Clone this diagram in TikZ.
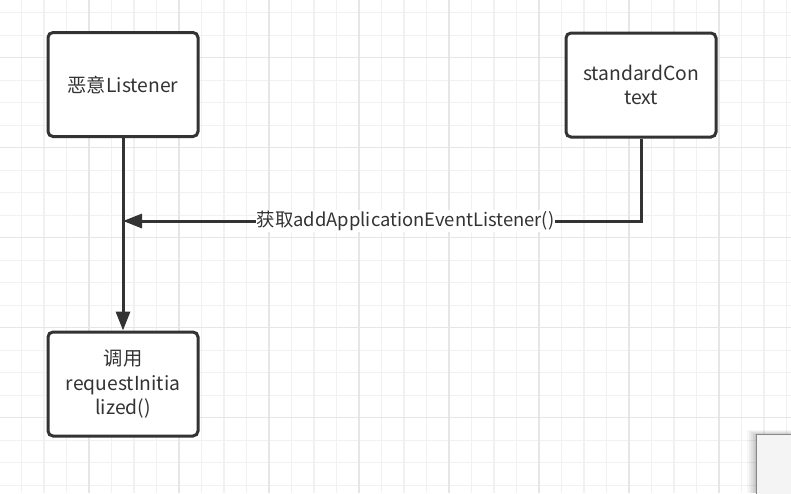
\documentclass[tikz,border=0pt]{standalone}
\usepackage{fontspec}
\setmainfont{Noto Sans CJK SC}
\usetikzlibrary{arrows.meta}
\definecolor{ink}{HTML}{333333}
\definecolor{gridminor}{HTML}{F1F1F1}
\definecolor{gridmajor}{HTML}{E6E6E6}
\tikzset{
  box/.style={draw=ink, line width=3pt, rounded corners=5pt, fill=white,
    minimum width=150pt, minimum height=104pt, inner sep=0pt, align=center,
    font=\fontsize{19.3}{24.5}\selectfont, text=ink},
  conn/.style={draw=ink, line width=3pt, -{Triangle[length=19pt,width=14pt]}},
  lbl/.style={fill=white, inner sep=1pt, font=\fontsize{18.4}{22}\selectfont, text=ink}
}
\begin{document}
\begin{tikzpicture}[x=1pt,y=-1pt]
\useasboundingbox (0,0) rectangle (791,493);
\fill[white] (0,0) rectangle (791,493);
% minor grid
\foreach \k in {0,...,35} {
  \draw[gridminor, line width=1.2pt] ({21.5+22.5*\k},0) -- ({21.5+22.5*\k},493);
}
\foreach \k in {0,...,21} {
  \draw[gridminor, line width=1.2pt] (0,{12.7+22.5*\k}) -- (791,{12.7+22.5*\k});
}
% major grid
\foreach \k in {0,...,8} {
  \draw[gridmajor, line width=1.2pt] ({-1+90*\k},0) -- ({-1+90*\k},493);
}
\foreach \k in {0,...,4} {
  \draw[gridmajor, line width=1.2pt] (0,{57.7+90*\k}) -- (791,{57.7+90*\k});
}
% nodes
\node[box] (evil) at (123,84.5) {恶意Listener};
\node[box] (ctx) at (641,85) {standardCon\\text};
\node[box] (call) at (123,384) {调用\\requestInitia\\lized()};
% connectors
\coordinate (bend) at (ctx.south |- 0,221);
\coordinate (hit) at (evil.south |- 0,221);
\draw[conn] (evil.south) -- (call.north);
\draw[conn, rounded corners=0pt] (ctx.south) -- (bend) -- (hit);
\node[lbl] (lab) at (405.5,221) {获取addApplicationEventListener()};
% bottom-right partial panel with shadow
\foreach \s/\o in {9/0.03,7/0.04,5/0.05,3/0.06,1/0.08} {
  \fill[black, opacity=\o] ({756-\s},{434.3-\s*0.5}) rectangle (791,493);
}
\draw[fill={rgb,255:red,244;green,244;blue,244}, draw={rgb,255:red,136;green,136;blue,136}, line width=1pt] (756,434.3) rectangle (795,497);
\end{tikzpicture}
\end{document}
